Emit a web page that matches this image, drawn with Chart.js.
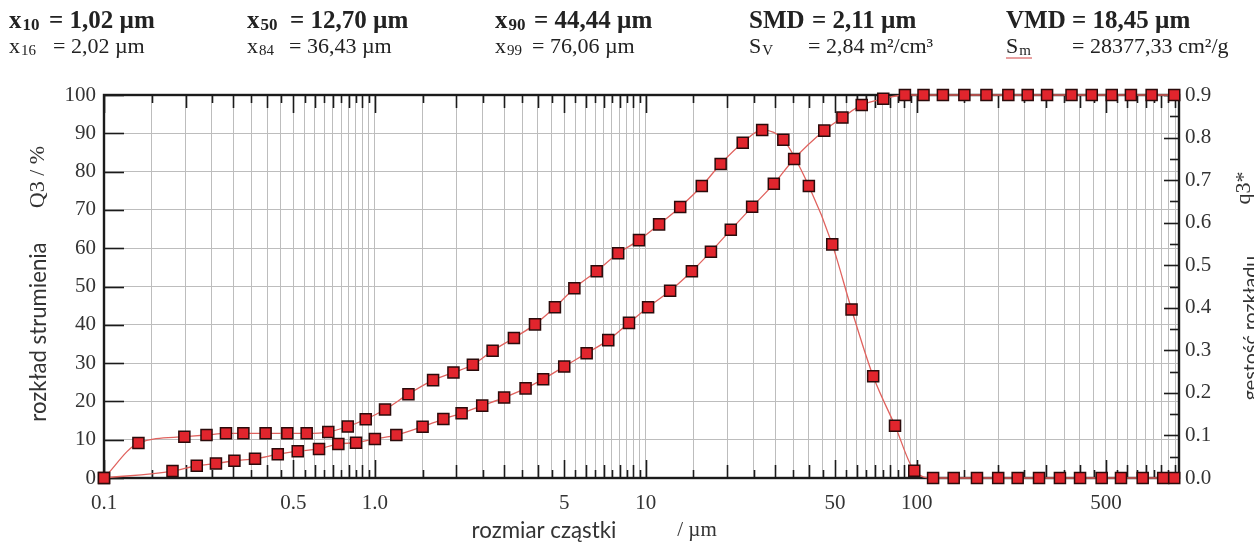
<!DOCTYPE html>
<html>
<head>
<meta charset="utf-8">
<title>Rozkład wielkości cząstek</title>
<script src="https://cdn.jsdelivr.net/npm/chart.js@4.4.1/dist/chart.umd.min.js"></script>
<style>
  html, body { margin: 0; padding: 0; background: #fff; }
  #psd { display: block; }
</style>
</head>
<body>
<canvas id="psd" width="1254" height="545"></canvas>
<script>
// cumulative distribution Q3 (%), at class upper bounds (µm)
var cumSize = [0.1, 0.179, 0.22, 0.259, 0.303, 0.361, 0.438, 0.519, 0.622, 0.733, 0.852, 1.0, 1.2, 1.5, 1.79, 2.09, 2.49, 3.0, 3.6, 4.18,
  5.0, 6.05, 7.27, 8.67, 10.2, 12.3, 14.8, 17.4, 20.6, 24.7, 29.7, 35.3, 45.6, 53.2, 62.7, 75.3, 90.5, 106, 125, 150,
  181, 218, 257, 303, 373, 443, 525, 618, 737, 893];
var cumQ3 = [0, 1.8, 3.2, 3.8, 4.5, 5.0, 6.2, 7.0, 7.6, 8.9, 9.2, 10.2, 11.2, 13.4, 15.4, 16.9, 18.9, 21.0, 23.4, 25.8,
  29.1, 32.6, 36.0, 40.5, 44.6, 48.9, 54.0, 59.1, 64.8, 70.8, 76.8, 83.3, 90.7, 94.1, 97.4, 99.0, 100, 100, 100, 100,
  100, 100, 100, 100, 100, 100, 100, 100, 100, 100];

// density distribution q3* (log), at class midpoints (µm)
var densSize = [0.1, 0.134, 0.198, 0.239, 0.282, 0.327, 0.395, 0.475, 0.56, 0.673, 0.794, 0.925, 1.09, 1.33, 1.64, 1.95, 2.3,
  2.72, 3.26, 3.9, 4.62, 5.45, 6.59, 7.91, 9.44, 11.2, 13.4, 16.1, 18.9, 22.8, 26.9, 32.2, 40.0, 48.8, 57.5, 69.1,
  83.2, 98.0, 115, 137, 167, 200, 236, 283, 338, 401, 482, 568, 683, 813, 893];
var densQ3 = [0, 0.082, 0.097, 0.101, 0.105, 0.105, 0.105, 0.105, 0.105, 0.108, 0.121, 0.138, 0.161, 0.197, 0.230, 0.248, 0.266,
  0.299, 0.329, 0.361, 0.401, 0.446, 0.486, 0.528, 0.559, 0.596, 0.637, 0.686, 0.738, 0.788, 0.818, 0.795, 0.686, 0.549, 0.396, 0.239,
  0.123, 0.017, 0, 0, 0, 0, 0, 0, 0, 0, 0, 0, 0, 0, 0];

// axis ticks
var xMin = 0.1, xMax = 930;
var xGridSteps = [1, 1.5, 2, 2.5, 3, 3.5, 4, 4.5, 5, 5.5, 6, 6.5, 7, 7.5, 8, 8.5, 9, 9.5];
var xGridDecades = [0.1, 1, 10, 100];
var xLabelVals = [0.1, 0.5, 1, 5, 10, 50, 100, 500];
var xLabelText = ['0.1', '0.5', '1.0', '5', '10', '50', '100', '500'];

var headRow1 = [
  { x: 9, sym: 'x', sub: '10', eqX: 49, val: '= 1,02 µm' },
  { x: 247, sym: 'x', sub: '50', eqX: 290, val: '= 12,70 µm' },
  { x: 495, sym: 'x', sub: '90', eqX: 534, val: '= 44,44 µm' },
  { x: 749, sym: 'SMD', sub: '', eqX: 812, val: '= 2,11 µm' },
  { x: 1006, sym: 'VMD', sub: '', eqX: 1072, val: '= 18,45 µm' }
];
var headRow2 = [
  { x: 9, sym: 'x', sub: '16', eqX: 53, val: '= 2,02 µm' },
  { x: 247, sym: 'x', sub: '84', eqX: 289, val: '= 36,43 µm' },
  { x: 495, sym: 'x', sub: '99', eqX: 532, val: '= 76,06 µm' },
  { x: 749, sym: 'S', sub: 'V', eqX: 808, val: '= 2,84 m²/cm³' },
  { x: 1006, sym: 'S', sub: 'm', eqX: 1072, val: '= 28377,33 cm²/g', squiggle: true }
];

var gridVals = [];
xGridDecades.forEach(function (d) {
  xGridSteps.forEach(function (s) {
    var v = +(d * s).toPrecision(3);
    if (v <= xMax) gridVals.push(v);
  });
});

var SERIF = "'Liberation Serif', 'DejaVu Serif', serif";
var SANS = "Lato, 'Open Sans', sans-serif";

function xTickLen(v) {
  var e = Math.pow(10, Math.floor(Math.log10(v) + 1e-9));
  var m = Math.round(v / e * 100) / 100;
  if (m === 1 || m === 5) return 18;
  if (Number.isInteger(m)) return 13;
  return 8;
}

function seg(ctx, x1, y1, x2, y2) {
  ctx.beginPath();
  ctx.moveTo(x1, y1);
  ctx.lineTo(x2, y2);
  ctx.stroke();
}

// frame and inward tick marks, drawn under the markers
var frameTicks = {
  id: 'frameTicks',
  beforeDatasetsDraw: function (chart) {
    var ctx = chart.ctx, a = chart.chartArea;
    var sx = chart.scales.x, sy = chart.scales.y, sy2 = chart.scales.y2;
    ctx.save();
    ctx.strokeStyle = '#1b1b1b';
    ctx.lineWidth = 1.6;
    sx.ticks.forEach(function (t) {
      var px = Math.round(sx.getPixelForValue(t.value)) + 0.5;
      var len = xTickLen(t.value);
      seg(ctx, px, a.top, px, a.top + len);
      seg(ctx, px, a.bottom, px, a.bottom - len);
    });
    sy.ticks.forEach(function (t) {
      var py = Math.round(sy.getPixelForValue(t.value)) + 0.5;
      var len = t.value % 10 === 0 ? 20 : 14;
      seg(ctx, a.left, py, a.left + len, py);
    });
    for (var i = 0; i <= 18; i++) {
      var py = Math.round(sy2.getPixelForValue(i * 0.05)) + 0.5;
      var len = i % 2 === 0 ? 15 : 9;
      seg(ctx, a.right - len, py, a.right, py);
    }
    ctx.lineWidth = 2.4;
    ctx.strokeRect(a.left, a.top, a.right - a.left, a.bottom - a.top);
    ctx.restore();
  }
};

function fitFont(ctx, text, family, target) {
  ctx.font = '20px ' + family;
  var w = ctx.measureText(text).width;
  return (20 * target / w).toFixed(1) + 'px ' + family;
}

function rotText(ctx, text, x, y, font) {
  ctx.save();
  ctx.translate(x, y);
  ctx.rotate(-Math.PI / 2);
  ctx.font = font;
  ctx.textAlign = 'center';
  ctx.textBaseline = 'alphabetic';
  ctx.fillText(text, 0, 0);
  ctx.restore();
}

function headRow(ctx, items, y, size, weight) {
  items.forEach(function (it) {
    ctx.font = weight + ' ' + size + 'px ' + SERIF;
    ctx.textAlign = 'left';
    ctx.textBaseline = 'alphabetic';
    ctx.fillText(it.sym, it.x, y);
    var w = ctx.measureText(it.sym).width;
    if (it.sub) {
      ctx.font = weight + ' ' + Math.round(size * 0.68) + 'px ' + SERIF;
      ctx.fillText(it.sub, it.x + w + 1, y + 2);
    }
    if (it.squiggle) {
      ctx.save();
      ctx.strokeStyle = '#d04040';
      ctx.lineWidth = 1;
      seg(ctx, it.x, y + 5, it.x + 26, y + 5);
      ctx.restore();
    }
    ctx.font = weight + ' ' + size + 'px ' + SERIF;
    ctx.fillText(it.val, it.eqX, y);
  });
}

var labels = {
  id: 'labels',
  afterDraw: function (chart) {
    var ctx = chart.ctx;
    ctx.save();
    ctx.fillStyle = '#222';
    headRow(ctx, headRow1, 28, 25, 'bold');
    headRow(ctx, headRow2, 53, 22, 'normal');

    ctx.fillStyle = '#333';
    rotText(ctx, 'Q3 / %', 44, 177, '22px ' + SERIF);
    rotText(ctx, 'rozkład strumienia', 46, 332, fitFont(ctx, 'rozkład strumienia', SANS, 179));
    rotText(ctx, 'q3*', 1250, 188, '22px ' + SERIF);
    rotText(ctx, 'gęstość rozkładu', 1257, 328, fitFont(ctx, 'gęstość rozkładu', SANS, 145));

    ctx.font = fitFont(ctx, 'rozmiar cząstki', SANS, 145);
    ctx.textAlign = 'center';
    ctx.textBaseline = 'alphabetic';
    ctx.fillText('rozmiar cząstki', 544, 538);
    ctx.font = '21px ' + SERIF;
    ctx.fillText('/ µm', 697, 536);
    ctx.restore();
  }
};

function pts(xs, ys) {
  return xs.map(function (x, i) { return { x: x, y: ys[i] }; });
}

var marker = {
  pointStyle: 'rect',
  pointRadius: 7.8,
  pointHoverRadius: 7.8,
  pointBackgroundColor: '#e1252d',
  pointBorderColor: '#2a0b0b',
  pointBorderWidth: 1.5,
  borderColor: '#e0625e',
  borderWidth: 1.3,
  cubicInterpolationMode: 'monotone',
  fill: false,
  clip: false
};

new Chart(document.getElementById('psd').getContext('2d'), {
  type: 'line',
  data: {
    datasets: [
      Object.assign({ label: 'Q3', data: pts(cumSize, cumQ3), yAxisID: 'y' }, marker),
      Object.assign({ label: 'q3*', data: pts(densSize, densQ3), yAxisID: 'y2' }, marker)
    ]
  },
  options: {
    responsive: false,
    animation: false,
    layout: { padding: { top: 95, left: 0, right: 0, bottom: 0 } },
    plugins: { legend: { display: false }, tooltip: { enabled: false } },
    scales: {
      x: {
        type: 'logarithmic',
        min: xMin,
        max: xMax,
        afterBuildTicks: function (s) {
          s.ticks = gridVals.map(function (v) { return { value: v }; });
        },
        afterFit: function (s) { s.height = 67; },
        grid: { color: '#bdbdbd', lineWidth: 1, drawTicks: false },
        border: { display: false },
        ticks: {
          autoSkip: false,
          maxRotation: 0,
          padding: 13,
          color: '#333',
          font: { family: SERIF, size: 21 },
          callback: function (value) {
            for (var i = 0; i < xLabelVals.length; i++) {
              if (Math.abs(xLabelVals[i] - value) / xLabelVals[i] < 1e-6) return xLabelText[i];
            }
            return '';
          }
        }
      },
      y: {
        position: 'left',
        min: 0,
        max: 100,
        afterFit: function (s) { s.width = 104; },
        grid: { color: '#bdbdbd', lineWidth: 1, drawTicks: false },
        border: { display: false },
        ticks: {
          stepSize: 5,
          padding: 8,
          color: '#333',
          font: { family: SERIF, size: 21 },
          callback: function (v) { return v % 10 === 0 ? String(v) : ''; }
        }
      },
      y2: {
        position: 'right',
        min: 0,
        max: 0.9,
        afterFit: function (s) { s.width = 75; },
        grid: { display: false, drawTicks: false },
        border: { display: false },
        ticks: {
          stepSize: 0.1,
          padding: 6,
          color: '#333',
          font: { family: SERIF, size: 21 },
          callback: function (v) { return v.toFixed(1); }
        }
      }
    }
  },
  plugins: [frameTicks, labels]
});
</script>
</body>
</html>
